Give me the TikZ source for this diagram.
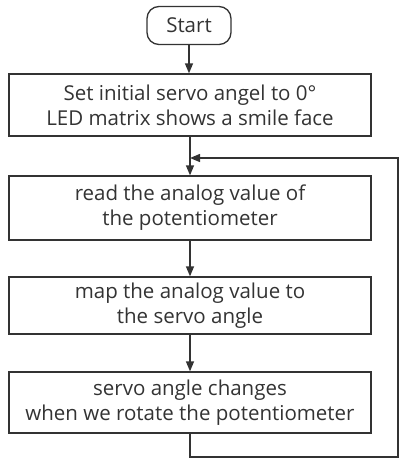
\documentclass[tikz,border=0pt]{standalone}
\usepackage{fontspec}
\setmainfont{Open Sans}
\usetikzlibrary{arrows.meta}
\definecolor{ln}{HTML}{333333}
\begin{document}
\begin{tikzpicture}[x=1pt,y=-1pt,
  box/.style={draw=ln,line width=1.3pt,minimum width=362pt,align=center,font=\fontsize{20.5}{25}\selectfont,text=ln,inner sep=0pt},
  term/.style={draw=ln,line width=1.3pt,rounded corners=12pt,minimum width=84pt,minimum height=38pt,font=\fontsize{20.5}{25}\selectfont,text=ln,inner sep=0pt},
  arr/.style={draw=ln,line width=1.3pt,-{Triangle[length=10pt,width=8pt]}}]
\useasboundingbox (0,0) rectangle (404,464);
\node[term] (start) at (189,25.5) {Start};
\node[box,minimum height=62pt] (b1) at (190,105) {Set initial servo angel to 0°\\LED matrix shows a smile face};
\node[box,minimum height=64pt] (b2) at (190,208) {read the analog value of\\the potentiometer};
\node[box,minimum height=57pt] (b3) at (190,305.5) {map the analog value to\\the servo angle};
\node[box,minimum height=61pt] (b4) at (190,402.5) {servo angle changes\\when we rotate the potentiometer};
\coordinate (j) at (190,158);
\coordinate (c1) at (190,457);
\coordinate (c2) at (398,457);
\coordinate (c3) at (398,158);
\draw[arr] (start.south) -- (start.south |- b1.north);
\draw[arr] (b1.south) -- (b2.north);
\draw[arr] (b2.south) -- (b3.north);
\draw[arr] (b3.south) -- (b4.north);
\draw[arr] (b4.south) -- (c1) -- (c2) -- (c3) -- (j);
\end{tikzpicture}
\end{document}
